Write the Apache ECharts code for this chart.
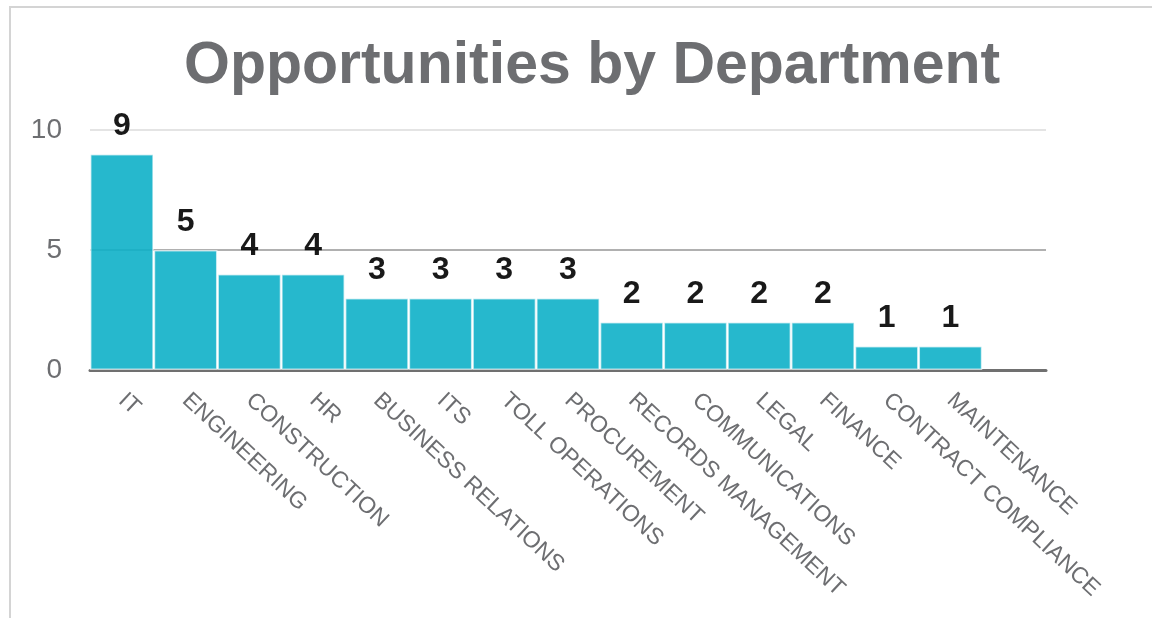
<!DOCTYPE html>
<html>
<head>
<meta charset="utf-8">
<script src="https://cdn.jsdelivr.net/npm/echarts@6/dist/echarts.min.js"></script>
<style>
html,body{margin:0;padding:0;background:#fff;}
#chart{width:1152px;height:618px;}
</style>
</head>
<body>
<div id="chart"></div>
<script>
const categories = ["IT","ENGINEERING","CONSTRUCTION","HR","BUSINESS RELATIONS","ITS","TOLL OPERATIONS","PROCUREMENT","RECORDS MANAGEMENT","COMMUNICATIONS","LEGAL","FINANCE","CONTRACT COMPLIANCE","MAINTENANCE",""];
const opportunities = [9,5,4,4,3,3,3,3,2,2,2,2,1,1];
const yTicks = [0,5,10];
const FONT = "'Liberation Sans', Arial, Helvetica, sans-serif";

const chart = echarts.init(document.getElementById('chart'));
chart.setOption({
  animation: false,
  backgroundColor: '#fff',
  graphic: [{
    type: 'rect',
    shape: {x: 10, y: 7, width: 1200, height: 700},
    style: {fill: 'none', stroke: '#d4d4d4', lineWidth: 2},
    z: -10
  }],
  title: {
    text: 'Opportunities by Department',
    left: 179,
    top: 32,
    textStyle: {fontFamily: FONT, fontSize: 59, fontWeight: 'bold', color: '#6d6e71'}
  },
  grid: {left: 90, right: 106, top: 130, bottom: 248, containLabel: false},
  xAxis: {
    type: 'category',
    data: categories,
    axisLine: {lineStyle: {color: '#707070', width: 3}},
    axisTick: {show: false},
    axisLabel: {
      interval: 0, rotate: -43, margin: 27,
      fontFamily: FONT, fontSize: 23, color: '#6d6e71'
    }
  },
  yAxis: {
    type: 'value',
    min: yTicks[0], max: yTicks[yTicks.length-1], interval: 5,
    axisLine: {show: false},
    axisTick: {show: false},
    axisLabel: {margin: 28, fontFamily: FONT, fontSize: 28, color: '#6d6e71'},
    splitLine: {lineStyle: {color: ['#e0e0e0', '#b0b0b0', '#e4e4e4'], width: 2}}
  },
  series: [{
    type: 'bar',
    data: opportunities,
    barCategoryGap: '0%',
    itemStyle: {color: 'rgb(14,176,200)', opacity: 0.9, borderColor: 'rgba(255,255,255,0.7)', borderWidth: 1.5},
    label: {
      show: true, position: 'top', distance: 12,
      fontFamily: FONT, fontSize: 32, fontWeight: 'bold', color: '#000'
    }
  }]
});
</script>
</body>
</html>
